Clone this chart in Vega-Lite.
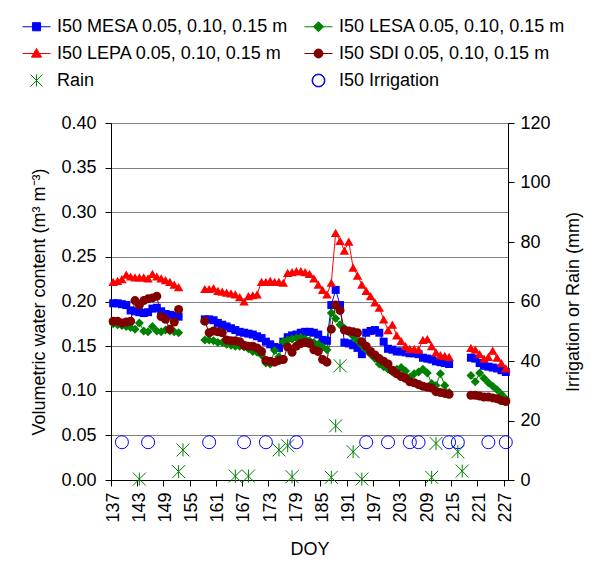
{
  "$schema": "https://vega.github.io/schema/vega-lite/v6.json",
  "width": 397,
  "height": 357,
  "autosize": {"type": "none"},
  "padding": {"left": 111, "top": 123, "right": 89, "bottom": 97},
  "background": "white",
  "datasets": {
    "soil": [
      {"doy":137,"period":1,"MESA":0.198,"LESA":0.175,"LEPA":0.222,"SDI":0.178},
      {"doy":138,"period":1,"MESA":0.198,"LESA":0.174,"LEPA":0.223,"SDI":0.178},
      {"doy":139,"period":1,"MESA":0.197,"LESA":0.173,"LEPA":0.225,"SDI":0.176},
      {"doy":140,"period":1,"MESA":0.196,"LESA":0.172,"LEPA":0.230,"SDI":0.177},
      {"doy":141,"period":1,"MESA":0.190,"LESA":0.171,"LEPA":0.228,"SDI":0.178},
      {"doy":142,"period":1,"MESA":0.189,"LESA":0.169,"LEPA":0.227,"SDI":0.201},
      {"doy":143,"period":1,"MESA":0.188,"LESA":0.176,"LEPA":0.227,"SDI":0.196},
      {"doy":144,"period":1,"MESA":0.187,"LESA":0.167,"LEPA":0.227,"SDI":0.201},
      {"doy":145,"period":1,"MESA":0.188,"LESA":0.166,"LEPA":0.226,"SDI":0.203},
      {"doy":146,"period":1,"MESA":0.192,"LESA":0.172,"LEPA":0.231,"SDI":0.204},
      {"doy":147,"period":1,"MESA":0.193,"LESA":0.167,"LEPA":0.228,"SDI":0.206},
      {"doy":148,"period":1,"MESA":0.189,"LESA":0.166,"LEPA":0.226,"SDI":0.183},
      {"doy":149,"period":1,"MESA":0.186,"LESA":0.168,"LEPA":0.224,"SDI":0.180},
      {"doy":150,"period":1,"MESA":0.185,"LESA":0.167,"LEPA":0.222,"SDI":0.169},
      {"doy":151,"period":1,"MESA":0.184,"LESA":0.166,"LEPA":0.219,"SDI":0.177},
      {"doy":152,"period":1,"MESA":0.183,"LESA":0.165,"LEPA":0.216,"SDI":0.191},
      {"doy":158,"period":2,"MESA":0.180,"LESA":0.157,"LEPA":0.214,"SDI":0.178},
      {"doy":159,"period":2,"MESA":0.180,"LESA":0.157,"LEPA":0.214,"SDI":0.165},
      {"doy":160,"period":2,"MESA":0.179,"LESA":0.156,"LEPA":0.215,"SDI":0.167},
      {"doy":161,"period":2,"MESA":0.176,"LESA":0.154,"LEPA":0.212,"SDI":0.166},
      {"doy":162,"period":2,"MESA":0.174,"LESA":0.154,"LEPA":0.211,"SDI":0.165},
      {"doy":163,"period":2,"MESA":0.172,"LESA":0.152,"LEPA":0.210,"SDI":0.157},
      {"doy":164,"period":2,"MESA":0.170,"LESA":0.151,"LEPA":0.209,"SDI":0.156},
      {"doy":165,"period":2,"MESA":0.168,"LESA":0.150,"LEPA":0.208,"SDI":0.156},
      {"doy":166,"period":2,"MESA":0.166,"LESA":0.150,"LEPA":0.205,"SDI":0.155},
      {"doy":167,"period":2,"MESA":0.165,"LESA":0.149,"LEPA":0.200,"SDI":0.151},
      {"doy":168,"period":2,"MESA":0.164,"LESA":0.147,"LEPA":0.206,"SDI":0.150},
      {"doy":169,"period":2,"MESA":0.163,"LESA":0.144,"LEPA":0.207,"SDI":0.150},
      {"doy":170,"period":2,"MESA":0.161,"LESA":0.143,"LEPA":0.208,"SDI":0.148},
      {"doy":171,"period":2,"MESA":0.159,"LESA":0.140,"LEPA":0.222,"SDI":0.144},
      {"doy":172,"period":2,"MESA":0.155,"LESA":0.131,"LEPA":0.222,"SDI":0.134},
      {"doy":173,"period":2,"MESA":0.152,"LESA":0.130,"LEPA":0.223,"SDI":0.133},
      {"doy":174,"period":2,"MESA":0.149,"LESA":0.145,"LEPA":0.222,"SDI":0.132},
      {"doy":175,"period":2,"MESA":0.148,"LESA":0.138,"LEPA":0.222,"SDI":0.134},
      {"doy":176,"period":2,"MESA":0.155,"LESA":0.155,"LEPA":0.221,"SDI":0.135},
      {"doy":177,"period":2,"MESA":0.160,"LESA":0.157,"LEPA":0.232,"SDI":0.149},
      {"doy":178,"period":2,"MESA":0.162,"LESA":0.158,"LEPA":0.233,"SDI":0.143},
      {"doy":179,"period":2,"MESA":0.163,"LESA":0.159,"LEPA":0.234,"SDI":0.150},
      {"doy":180,"period":2,"MESA":0.165,"LESA":0.160,"LEPA":0.234,"SDI":0.153},
      {"doy":181,"period":2,"MESA":0.166,"LESA":0.158,"LEPA":0.233,"SDI":0.154},
      {"doy":182,"period":2,"MESA":0.166,"LESA":0.156,"LEPA":0.231,"SDI":0.153},
      {"doy":183,"period":2,"MESA":0.165,"LESA":0.154,"LEPA":0.226,"SDI":0.146},
      {"doy":184,"period":2,"MESA":0.163,"LESA":0.152,"LEPA":0.219,"SDI":0.144},
      {"doy":185,"period":2,"MESA":0.157,"LESA":0.149,"LEPA":0.213,"SDI":0.135},
      {"doy":186,"period":2,"MESA":0.156,"LESA":0.146,"LEPA":0.208,"SDI":0.132},
      {"doy":187,"period":2,"MESA":0.196,"LESA":0.187,"LEPA":0.221,"SDI":0.169},
      {"doy":188,"period":2,"MESA":0.213,"LESA":0.181,"LEPA":0.277,"SDI":0.196},
      {"doy":189,"period":2,"MESA":0.196,"LESA":0.174,"LEPA":0.268,"SDI":0.190},
      {"doy":190,"period":2,"MESA":0.154,"LESA":0.170,"LEPA":0.257,"SDI":0.168},
      {"doy":191,"period":2,"MESA":0.153,"LESA":0.166,"LEPA":0.267,"SDI":0.167},
      {"doy":192,"period":2,"MESA":0.151,"LESA":0.161,"LEPA":0.238,"SDI":0.166},
      {"doy":193,"period":2,"MESA":0.148,"LESA":0.156,"LEPA":0.229,"SDI":0.165},
      {"doy":194,"period":2,"MESA":0.141,"LESA":0.151,"LEPA":0.219,"SDI":0.155},
      {"doy":195,"period":2,"MESA":0.165,"LESA":0.146,"LEPA":0.212,"SDI":0.150},
      {"doy":196,"period":2,"MESA":0.167,"LESA":0.141,"LEPA":0.206,"SDI":0.144},
      {"doy":197,"period":2,"MESA":0.168,"LESA":0.136,"LEPA":0.199,"SDI":0.140},
      {"doy":198,"period":2,"MESA":0.165,"LESA":0.130,"LEPA":0.193,"SDI":0.136},
      {"doy":199,"period":2,"MESA":0.155,"LESA":0.127,"LEPA":0.180,"SDI":0.133},
      {"doy":200,"period":2,"MESA":0.147,"LESA":0.124,"LEPA":0.168,"SDI":0.130},
      {"doy":201,"period":2,"MESA":0.146,"LESA":0.121,"LEPA":0.174,"SDI":0.123},
      {"doy":202,"period":2,"MESA":0.144,"LESA":0.124,"LEPA":0.162,"SDI":0.119},
      {"doy":203,"period":2,"MESA":0.144,"LESA":0.126,"LEPA":0.156,"SDI":0.116},
      {"doy":204,"period":2,"MESA":0.143,"LESA":0.122,"LEPA":0.150,"SDI":0.114},
      {"doy":205,"period":2,"MESA":0.142,"LESA":0.115,"LEPA":0.147,"SDI":0.110},
      {"doy":206,"period":2,"MESA":0.142,"LESA":0.119,"LEPA":0.147,"SDI":0.109},
      {"doy":207,"period":2,"MESA":0.141,"LESA":0.121,"LEPA":0.146,"SDI":0.107},
      {"doy":208,"period":2,"MESA":0.137,"LESA":0.124,"LEPA":0.157,"SDI":0.105},
      {"doy":209,"period":2,"MESA":0.136,"LESA":0.120,"LEPA":0.158,"SDI":0.104},
      {"doy":210,"period":2,"MESA":0.135,"LESA":0.108,"LEPA":0.150,"SDI":0.103},
      {"doy":211,"period":2,"MESA":0.133,"LESA":0.106,"LEPA":0.143,"SDI":0.099},
      {"doy":212,"period":2,"MESA":0.132,"LESA":0.119,"LEPA":0.140,"SDI":0.098},
      {"doy":213,"period":2,"MESA":0.131,"LESA":0.106,"LEPA":0.139,"SDI":0.097},
      {"doy":214,"period":2,"MESA":0.130,"LESA":0.098,"LEPA":0.138,"SDI":0.096},
      {"doy":219,"period":3,"MESA":0.137,"LESA":0.117,"LEPA":0.148,"SDI":0.095},
      {"doy":220,"period":3,"MESA":0.136,"LESA":0.110,"LEPA":0.146,"SDI":0.095},
      {"doy":221,"period":3,"MESA":0.131,"LESA":0.120,"LEPA":0.141,"SDI":0.094},
      {"doy":222,"period":3,"MESA":0.128,"LESA":0.114,"LEPA":0.136,"SDI":0.093},
      {"doy":223,"period":3,"MESA":0.127,"LESA":0.109,"LEPA":0.138,"SDI":0.093},
      {"doy":224,"period":3,"MESA":0.126,"LESA":0.105,"LEPA":0.145,"SDI":0.092},
      {"doy":225,"period":3,"MESA":0.125,"LESA":0.101,"LEPA":0.137,"SDI":0.091},
      {"doy":226,"period":3,"MESA":0.123,"LESA":0.096,"LEPA":0.131,"SDI":0.089},
      {"doy":227,"period":3,"MESA":0.121,"LESA":0.091,"LEPA":0.125,"SDI":0.088}
    ],
    "events": [
      {"doy":143,"series":"Rain","mm":0.3},
      {"doy":152,"series":"Rain","mm":2.8},
      {"doy":153,"series":"Rain","mm":10.1},
      {"doy":165,"series":"Rain","mm":1.3},
      {"doy":168,"series":"Rain","mm":1.3},
      {"doy":175,"series":"Rain","mm":10.1},
      {"doy":177,"series":"Rain","mm":11.5},
      {"doy":178,"series":"Rain","mm":1.1},
      {"doy":187,"series":"Rain","mm":0.9},
      {"doy":188,"series":"Rain","mm":18.2},
      {"doy":189,"series":"Rain","mm":38.4},
      {"doy":192,"series":"Rain","mm":9.5},
      {"doy":194,"series":"Rain","mm":0.3},
      {"doy":210,"series":"Rain","mm":0.9},
      {"doy":211,"series":"Rain","mm":12.3},
      {"doy":216,"series":"Rain","mm":9.5},
      {"doy":217,"series":"Rain","mm":3.0},
      {"doy":139,"series":"Irrigation","mm":12.7},
      {"doy":145,"series":"Irrigation","mm":12.7},
      {"doy":159,"series":"Irrigation","mm":12.7},
      {"doy":167,"series":"Irrigation","mm":12.7},
      {"doy":172,"series":"Irrigation","mm":12.7},
      {"doy":179,"series":"Irrigation","mm":12.7},
      {"doy":195,"series":"Irrigation","mm":12.7},
      {"doy":200,"series":"Irrigation","mm":12.7},
      {"doy":205,"series":"Irrigation","mm":12.7},
      {"doy":207,"series":"Irrigation","mm":12.7},
      {"doy":214,"series":"Irrigation","mm":12.7},
      {"doy":216,"series":"Irrigation","mm":12.7},
      {"doy":223,"series":"Irrigation","mm":12.7},
      {"doy":227,"series":"Irrigation","mm":12.7}
    ]
  },
  "layer": [
    {
      "data": {"name": "soil"},
      "transform": [{"fold": ["MESA", "LESA", "LEPA", "SDI"], "as": ["series", "vwc"]}],
      "encoding": {
        "x": {
          "field": "doy", "type": "quantitative", "title": "DOY",
          "scale": {"domain": [136.5, 227.5], "nice": false, "zero": false},
          "axis": {
            "values": [136.5, 142.5, 148.5, 154.5, 160.5, 166.5, 172.5, 178.5, 184.5, 190.5, 196.5, 202.5, 208.5, 214.5, 220.5, 226.5],
            "labelExpr": "format(datum.value + 0.5, 'd')",
            "labelAngle": -90, "labelOffset": 2, "labelPadding": 6,
            "labelFlush": false, "labelOverlap": false, "labelBound": false, "labelSeparation": 0,
            "grid": false, "titlePadding": 18
          }
        },
        "y": {
          "field": "vwc", "type": "quantitative",
          "title": "Volumetric water content (m³ m⁻³)",
          "scale": {"domain": [0, 0.4], "nice": false, "zero": true},
          "axis": {
            "values": [0, 0.05, 0.1, 0.15, 0.2, 0.25, 0.3, 0.35, 0.4],
            "format": ".2f", "grid": true, "labelPadding": 9, "titlePadding": 12,
            "labelOverlap": false
          }
        },
        "color": {
          "field": "series", "type": "nominal",
          "scale": {
            "domain": ["MESA", "LESA", "LEPA", "SDI", "Rain", "Irrigation"],
            "range": ["#0000ff", "#008000", "#ff0000", "#800000", "#008000", "#0000ff"]
          },
          "legend": {
            "orient": "none", "legendX": -89, "legendY": -111,
            "columns": 2, "direction": "horizontal", "title": null,
            "labelExpr": "{'MESA':'I50 MESA 0.05, 0.10, 0.15 m','LESA':'I50 LESA 0.05, 0.10, 0.15 m','LEPA':'I50 LEPA 0.05, 0.10, 0.15 m','SDI':'I50 SDI 0.05, 0.10, 0.15 m','Rain':'Rain','Irrigation':'I50 Irrigation'}[datum.label]"
          }
        }
      },
      "layer": [
        {
          "mark": {"type": "line", "strokeWidth": 1},
          "encoding": {"detail": {"field": "period", "type": "nominal"}}
        },
        {
          "transform": [{"filter": {"field": "series", "equal": "MESA"}}],
          "mark": {"type": "point", "filled": true, "opacity": 1, "shape": "square", "size": 64}
        },
        {
          "transform": [{"filter": {"field": "series", "equal": "LESA"}}],
          "mark": {"type": "point", "filled": true, "opacity": 1, "shape": "diamond", "size": 81}
        },
        {
          "transform": [{"filter": {"field": "series", "equal": "LEPA"}}],
          "mark": {"type": "point", "filled": true, "opacity": 1, "shape": "triangle-up", "size": 90}
        },
        {
          "transform": [{"filter": {"field": "series", "equal": "SDI"}}],
          "mark": {"type": "point", "filled": true, "opacity": 1, "shape": "circle", "size": 81}
        }
      ]
    },
    {
      "data": {"name": "events"},
      "encoding": {
        "x": {
          "field": "doy", "type": "quantitative", "title": "DOY",
          "scale": {"domain": [136.5, 227.5], "nice": false, "zero": false},
          "axis": {
            "values": [136.5, 142.5, 148.5, 154.5, 160.5, 166.5, 172.5, 178.5, 184.5, 190.5, 196.5, 202.5, 208.5, 214.5, 220.5, 226.5],
            "labelExpr": "format(datum.value + 0.5, 'd')",
            "labelAngle": -90, "labelOffset": 2, "labelPadding": 6,
            "labelFlush": false, "labelOverlap": false, "labelBound": false, "labelSeparation": 0,
            "grid": false, "titlePadding": 18
          }
        },
        "y": {
          "field": "mm", "type": "quantitative", "title": "Irrigation or Rain (mm)",
          "scale": {"domain": [0, 120], "nice": false},
          "axis": {
            "orient": "right", "values": [0, 20, 40, 60, 80, 100, 120],
            "grid": false, "labelPadding": 6, "titlePadding": 14,
            "titleAngle": 270, "titleBaseline": "top", "labelOverlap": false
          }
        },
        "color": {"field": "series", "type": "nominal"}
      },
      "layer": [
        {
          "transform": [{"filter": {"field": "series", "equal": "Rain"}}],
          "mark": {"type": "point", "filled": false, "strokeWidth": 1, "opacity": 1, "size": 169, "shape": "M-1,-1L1,1M-1,1L1,-1M0,-1L0,1"}
        },
        {
          "transform": [{"filter": {"field": "series", "equal": "Irrigation"}}],
          "mark": {"type": "point", "filled": false, "strokeWidth": 1, "opacity": 1, "size": 169, "shape": "circle"}
        },
        {
          "transform": [{"filter": "false"}],
          "mark": {"type": "point", "filled": true, "opacity": 1},
          "encoding": {
            "shape": {
              "field": "series", "type": "nominal",
              "scale": {
                "domain": ["MESA", "LESA", "LEPA", "SDI", "Rain", "Irrigation"],
                "range": [
                  "M-1,0L1,0M-0.29,-0.29L0.29,-0.29L0.29,0.29L-0.29,0.29Z",
                  "M-1,0L1,0M0,-0.36L0.36,0L0,0.36L-0.36,0Z",
                  "M-1,0L1,0M0,-0.36L0.36,0.26L-0.36,0.26Z",
                  "M-1,0L1,0M0.32,0C0.32,0.177 0.177,0.32 0,0.32C-0.177,0.32 -0.32,0.177 -0.32,0C-0.32,-0.177 -0.177,-0.32 0,-0.32C0.177,-0.32 0.32,-0.177 0.32,0Z",
                  "M-0.43,-0.43L0.43,0.43M-0.43,0.43L0.43,-0.43M0,-0.43L0,0.43",
                  "M0.46,0C0.46,0.254 0.254,0.46 0,0.46C-0.254,0.46 -0.46,0.254 -0.46,0C-0.46,-0.254 -0.254,-0.46 0,-0.46C0.254,-0.46 0.46,-0.254 0.46,0ZM0.42,0C0.42,-0.232 0.232,-0.42 0,-0.42C-0.232,-0.42 -0.42,-0.232 -0.42,0C-0.42,0.232 -0.232,0.42 0,0.42C0.232,0.42 0.42,0.232 0.42,0Z"
                ]
              },
              "legend": {
                "orient": "none", "legendX": -89, "legendY": -111,
                "columns": 2, "direction": "horizontal", "title": null,
                "labelExpr": "{'MESA':'I50 MESA 0.05, 0.10, 0.15 m','LESA':'I50 LESA 0.05, 0.10, 0.15 m','LEPA':'I50 LEPA 0.05, 0.10, 0.15 m','SDI':'I50 SDI 0.05, 0.10, 0.15 m','Rain':'Rain','Irrigation':'I50 Irrigation'}[datum.label]"
              }
            }
          }
        }
      ]
    }
  ],
  "resolve": {"scale": {"y": "independent"}},
  "config": {
    "font": "Liberation Sans",
    "view": {"stroke": null},
    "axis": {
      "labelFontSize": 18, "titleFontSize": 18, "titleFontWeight": "normal",
      "labelColor": "#000000", "titleColor": "#000000",
      "domainColor": "#000000", "tickColor": "#000000",
      "gridColor": "#808080", "gridWidth": 1, "tickSize": 6, "labelOverlap": false
    },
    "axisX": {"labelOverlap": false},
    "axisBottom": {"labelOverlap": false},
    "axisQuantitative": {"labelOverlap": false},
    "legend": {
      "labelFontSize": 18, "labelColor": "#000000", "labelLimit": 500, "labelOffset": 6,
      "symbolSize": 784, "symbolStrokeWidth": 1, "symbolOpacity": 1,
      "columnPadding": 13, "rowPadding": 3, "padding": 0
    }
  }
}
